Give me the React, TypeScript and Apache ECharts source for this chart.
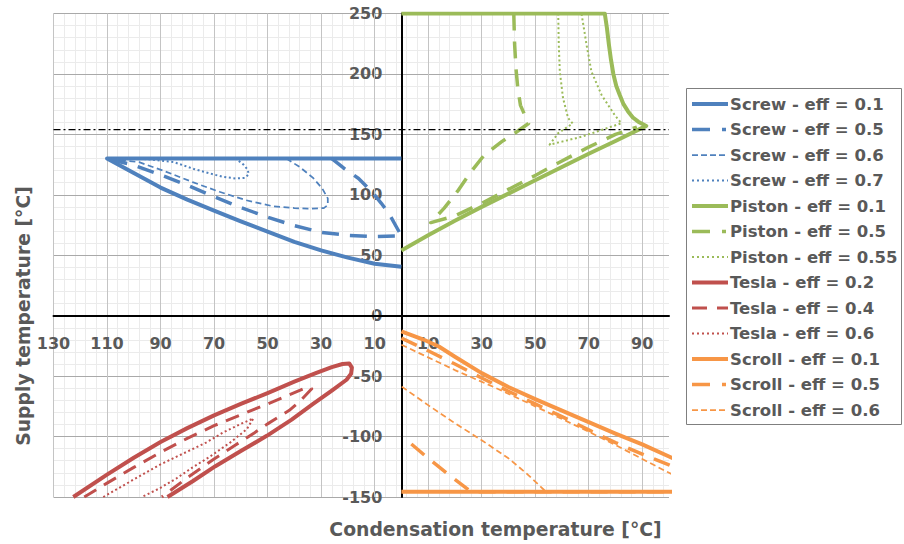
import React, { useEffect, useRef } from 'react';
import * as echarts from 'echarts';

// ---- tick labels ----
const xTickValues = [-130, -110, -90, -70, -50, -30, -10, 10, 30, 50, 70, 90];
const xTickLabels = ['130', '110', '90', '70', '50', '30', '10', '10', '30', '50', '70', '90'];

// reference (dash-dot) level
const refLineY = 154;

// ---- series values [condensation temperature (mirrored on the left), supply temperature] ----
const screw01 = [[0, 130], [-110, 130], [-100, 118], [-90, 106], [-80, 96], [-70, 87], [-60, 78], [-50, 69.5], [-40, 61], [-30, 54], [-20, 48], [-10, 43], [0, 40.5]];
const screw05 = [[-26, 130], [-21.5, 122], [-16, 113.5], [-11, 102.5], [-7.5, 93], [-4.5, 84], [-2, 74], [0, 66], [-10, 65.5], [-20, 66.5], [-30, 69], [-40, 74.5], [-50, 81.5], [-60, 89.5], [-70, 98.5], [-80, 108], [-90, 116.5], [-100, 124.5], [-110, 130]];
const screw06 = [[-43, 130], [-38, 123], [-33, 114], [-29.5, 105], [-27.5, 97], [-27.5, 91.5], [-29, 89], [-35, 88.5], [-40, 89], [-48, 90.5], [-58, 95.5], [-68, 102.5], [-78, 110.5], [-89, 120], [-98, 127], [-110, 130]];
const screw07 = [[-110, 130], [-95, 129.5], [-85, 127], [-77, 121], [-72, 118], [-67, 115], [-62, 113.5], [-58.5, 114], [-57, 117], [-57.5, 121], [-59, 125], [-61, 128.5], [-62, 130]];

const piston01 = [[0, 250], [76, 250], [76.8, 238], [77.5, 225], [78.3, 212], [79.2, 200], [80.3, 190], [81.6, 182.5], [83, 175], [84.7, 169], [86.5, 164], [88.5, 160.5], [91.5, 157], [80, 144.5], [70, 134], [60, 123], [50, 112], [40, 101], [30, 90], [20, 78.5], [10, 66.5], [0, 54]];
const piston05 = [[42, 250], [42.3, 225], [42.8, 205], [43.5, 188], [44.5, 174], [47.5, 159], [43, 152], [37.5, 144], [31, 133], [26, 119], [21, 103], [16, 89], [11, 77], [20, 82.5], [30, 93], [40, 104.5], [50, 116], [60, 128], [70, 139.5], [80, 150], [88, 156]];
const piston055 = [[58.6, 250], [58.8, 225], [59.2, 202], [60.4, 180], [62.3, 163.5], [64, 159], [58.6, 151], [55.4, 141.5], [60, 144], [67.3, 148], [74.8, 153.6], [82.2, 159.2], [79.7, 166], [74.8, 182.6], [71, 202], [69.2, 224], [67.3, 250]];

const tesla02 = [[-122.6, -150], [-110, -131.5], [-100, -117.5], [-90, -104.5], [-80, -93], [-70, -82.5], [-60, -73], [-50, -64], [-40, -54.5], [-32, -47.5], [-26, -42.5], [-22, -40], [-19.5, -39.5], [-18.5, -43], [-18.8, -48], [-20.5, -53], [-26, -62], [-33, -73], [-41, -86], [-50.3, -99.4], [-60, -112], [-69.5, -124.5], [-78, -137], [-87.4, -150]];
const tesla04 = [[-118.5, -150], [-110, -138.5], [-100, -125.5], [-90, -113], [-80, -101.5], [-70, -91], [-60, -82], [-50, -73], [-42, -65.5], [-36, -60], [-33.5, -60.5], [-35, -64], [-38, -71], [-42, -78.5], [-50, -89.5], [-55, -97], [-62, -107], [-70, -118.5], [-80, -134], [-89.5, -150]];
const tesla06 = [[-111.4, -150], [-100, -135.5], [-90, -123], [-81.5, -114], [-73, -105], [-66.5, -96.5], [-60, -89.5], [-55.3, -85], [-57.8, -94], [-64, -105], [-71.5, -116.5], [-78, -125.5], [-84, -134.5], [-90.5, -143], [-97, -150]];

const scroll01 = [[0, -145.6], [108, -145.6], [108, -124.5], [100, -116.5], [90, -106.5], [80, -97.5], [70, -88], [60, -78.5], [50, -69], [40, -59], [30, -47.5], [20, -34], [14, -25.5], [8, -19.5], [0, -13]];
const scroll05 = [[0, -18.5], [10, -29], [20, -40], [30, -51.5], [40, -62.5], [50, -73], [60, -83.5], [70, -94.5], [80, -105], [90, -114.5], [100, -123.5], [108, -131], [108, -145.6], [26, -145.6], [18, -132], [10, -118], [1, -101]];
const scroll06 = [[0, -24], [10, -34.5], [20, -45], [35, -59.5], [50, -75], [60, -85.5], [70, -96], [80, -107], [90, -118.5], [100, -130], [108, -139], [108, -145.6], [54, -145.6], [47, -131], [40, -118], [30, -103], [20, -89], [10, -74], [0, -58.5]];

// ---- styles ----
const BLUE = '#4F81BD';
const GREEN = '#9BBB59';
const RED = '#C0504D';
const ORANGE = '#F79646';
const FONT = 'DejaVu Sans';
const TXT = '#595959';

type Sty = { width: number; dash: number[] | null; legendDash: number[] | null };
const SOLID: Sty = { width: 4, dash: null, legendDash: null };
const LONGDASH: Sty = { width: 3.5, dash: [17, 11], legendDash: [18, 12, 4, 12] };
const THINDASH: Sty = { width: 1.75, dash: [6, 3.5], legendDash: [6, 3] };
const DOTTED: Sty = { width: 2, dash: [2, 2.6], legendDash: [2, 3] };
const DASH: Sty = { width: 3, dash: [14, 9], legendDash: [15, 10] };

const seriesDefs = [
  { name: 'Screw - eff = 0.1', data: screw01, color: BLUE, sty: SOLID },
  { name: 'Screw - eff = 0.5', data: screw05, color: BLUE, sty: LONGDASH },
  { name: 'Screw - eff = 0.6', data: screw06, color: BLUE, sty: THINDASH },
  { name: 'Screw - eff = 0.7', data: screw07, color: BLUE, sty: DOTTED },
  { name: 'Piston - eff = 0.1', data: piston01, color: GREEN, sty: SOLID },
  { name: 'Piston - eff = 0.5', data: piston05, color: GREEN, sty: LONGDASH },
  { name: 'Piston - eff = 0.55', data: piston055, color: GREEN, sty: DOTTED },
  { name: 'Tesla - eff = 0.2', data: tesla02, color: RED, sty: SOLID },
  { name: 'Tesla - eff = 0.4', data: tesla04, color: RED, sty: DASH },
  { name: 'Tesla - eff = 0.6', data: tesla06, color: RED, sty: DOTTED },
  { name: 'Scroll - eff = 0.1', data: scroll01, color: ORANGE, sty: SOLID },
  { name: 'Scroll - eff = 0.5', data: scroll05, color: ORANGE, sty: LONGDASH },
  { name: 'Scroll - eff = 0.6', data: scroll06, color: ORANGE, sty: THINDASH },
];

// grid geometry
const GRID_LEFT = 53.5;
const GRID_RIGHT = 235;
const GRID_TOP = 13.5;
const GRID_BOTTOM = 47;
const X_MIN = -130;
const X_MAX = 100;
const Y_MIN = -150;
const Y_MAX = 250;

export default function App() {
  const ref = useRef<HTMLDivElement>(null);

  useEffect(() => {
    if (!ref.current) return;
    const chart = echarts.init(ref.current, undefined, { renderer: 'svg' });

    const W = 904;
    const H = 544;
    const plotW = W - GRID_LEFT - GRID_RIGHT;
    const plotH = H - GRID_TOP - GRID_BOTTOM;
    // shift axes to cross at zero
    const yAxisOffset = -((0 - X_MIN) / (X_MAX - X_MIN)) * plotW;
    const xAxisOffset = -((0 - Y_MIN) / (Y_MAX - Y_MIN)) * plotH;

    const series: any[] = seriesDefs.map((d) => ({
      type: 'line',
      name: d.name,
      data: d.data,
      symbol: 'none',
      showSymbol: false,
      smooth: false,
      clip: true,
      silent: true,
      z: 2,
      lineStyle: {
        color: d.color,
        width: d.sty.width,
        type: d.sty.dash ? d.sty.dash : 'solid',
        cap: 'butt',
        join: 'round',
      },
      itemStyle: { color: d.color },
    }));

    series.push({
      type: 'line',
      name: 'reference',
      data: [[X_MIN, refLineY], [X_MAX, refLineY]],
      symbol: 'none',
      silent: true,
      z: 3,
      lineStyle: { color: '#000', width: 1.3, type: [7, 3, 2, 3] },
    });

    const legendTop = 104;
    const legendStep = 25.5;
    const graphics: any[] = [
      {
        type: 'rect',
        z: 0,
        shape: { x: 686.5, y: 88.5, width: 215, height: 336 },
        style: { fill: '#fff', stroke: '#7f7f7f', lineWidth: 1 },
      },
    ];
    seriesDefs.forEach((d, i) => {
      const y = legendTop + i * legendStep;
      graphics.push({
        type: 'line',
        z: 1,
        shape: { x1: 692, y1: y, x2: 728, y2: y },
        style: {
          stroke: d.color,
          lineWidth: d.sty.width,
          lineDash: d.sty.legendDash ? d.sty.legendDash : null,
          lineCap: 'butt',
        },
      });
      graphics.push({
        type: 'text',
        z: 1,
        x: 730,
        y: y,
        style: {
          text: d.name,
          fill: TXT,
          fontSize: 16.5,
          fontWeight: 'bold',
          fontFamily: FONT,
          verticalAlign: 'middle',
          align: 'left',
        },
      });
    });
    graphics.push({
      type: 'text',
      z: 1,
      x: 495.5,
      y: 529,
      style: {
        text: 'Condensation temperature [°C]',
        fill: TXT,
        fontSize: 18.8,
        fontWeight: 'bold',
        fontFamily: FONT,
        align: 'center',
        verticalAlign: 'middle',
      },
    });
    graphics.push({
      type: 'text',
      z: 1,
      x: 23,
      y: 316,
      rotation: Math.PI / 2,
      style: {
        text: 'Supply temperature [°C]',
        fill: TXT,
        fontSize: 18.8,
        fontWeight: 'bold',
        fontFamily: FONT,
        align: 'center',
        verticalAlign: 'middle',
      },
    });

    const labelStyle = {
      color: TXT,
      fontSize: 16,
      fontWeight: 'bold' as const,
      fontFamily: FONT,
    };

    chart.setOption({
      animation: false,
      backgroundColor: '#ffffff',
      grid: {
        left: GRID_LEFT,
        right: GRID_RIGHT,
        top: GRID_TOP,
        bottom: GRID_BOTTOM,
        containLabel: false,
        outerBoundsMode: 'none',
      },
      xAxis: [
        {
          type: 'value',
          min: X_MIN,
          max: X_MAX,
          interval: 20,
          position: 'bottom',
          offset: xAxisOffset,
          z: 2,
          axisLine: { show: true, onZero: false, lineStyle: { color: '#000', width: 2 } },
          axisTick: { show: false },
          axisLabel: {
            ...labelStyle,
            margin: 20,
            formatter: (v: number) => {
              const i = xTickValues.indexOf(Math.round(v));
              return i >= 0 ? xTickLabels[i] : '';
            },
          },
          splitLine: { show: true, showMaxLine: false, lineStyle: { color: '#c4c4c4', width: 1 } },
        },
        {
          type: 'value',
          min: X_MIN,
          max: X_MAX,
          interval: 4,
          position: 'top',
          z: 0,
          axisLine: { show: false, onZero: false },
          axisTick: { show: false },
          axisLabel: { show: false },
          splitLine: { show: true, showMaxLine: false, lineStyle: { color: '#ebebeb', width: 1 } },
        },
      ],
      yAxis: {
        type: 'value',
        min: Y_MIN,
        max: Y_MAX,
        interval: 50,
        position: 'left',
        offset: yAxisOffset,
        z: 1,
        axisLine: { show: true, onZero: false, lineStyle: { color: '#000', width: 2 } },
        axisTick: { show: false },
        axisLabel: { ...labelStyle, margin: 19 },
        splitLine: { show: true, lineStyle: { color: '#a9a9a9', width: 1.2 } },
        minorTick: { show: false, splitNumber: 5 },
        minorSplitLine: { show: true, lineStyle: { color: '#ebebeb', width: 1 } },
      },
      graphic: graphics,
      series,
    });

    return () => {
      chart.dispose();
    };
  }, []);

  return (
    <div
      ref={ref}
      style={{ position: 'fixed', left: 0, top: 0, width: 904, height: 544, background: '#fff' }}
    />
  );
}
